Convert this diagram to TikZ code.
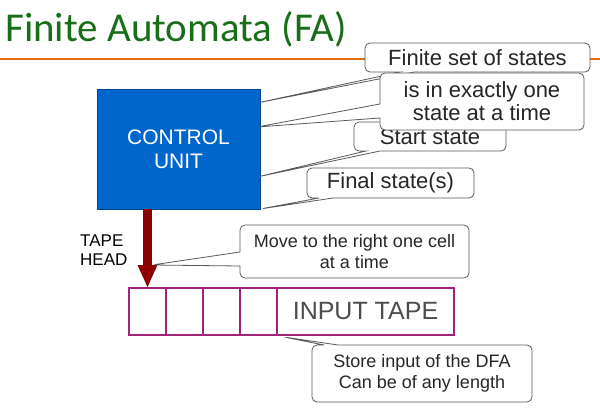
\documentclass[tikz,border=0pt]{standalone}
\usepackage{fontspec}
\setmainfont{Liberation Sans}
\newfontfamily\titlefont{Carlito}
\usetikzlibrary{positioning}
\usetikzlibrary{arrows.meta}
\usetikzlibrary{calc, shapes.callouts}
\definecolor{titleGreen}{RGB}{25,110,25}
\definecolor{ruleOrange}{RGB}{228,108,10}
\definecolor{unitBlue}{RGB}{0,102,204}
\definecolor{tapePurple}{RGB}{160,35,120}
\definecolor{headRed}{RGB}{140,0,0}
\tikzset{%
	% Specifications for style of nodes:
	base/.style = {rectangle, draw=black, inner sep=2pt, outer sep=0pt,
		align=center},
	note/.style = {base, rectangle callout, rounded corners=5pt, draw=black!65,
		line width=0.8pt, fill=white, text=black!85, callout pointer width=14pt,
		font=\fontsize{22}{23}\selectfont},
	smallNote/.style = {note, font=\fontsize{18}{21}\selectfont},
	unit/.style = {base, draw=unitBlue!70!black, fill=unitBlue, text=white,
		font=\fontsize{21}{24}\selectfont},
	cell/.style = {base, draw=tapePurple, line width=1.5pt, minimum width=37pt,
		minimum height=47pt}
}
\begin{document}
\begin{tikzpicture}[x=1pt, y=-1pt]
		\useasboundingbox (0,0) rectangle (600,420);
		%% Title
		\node [anchor=base west, inner sep=0pt, text=titleGreen, font=\titlefont\fontsize{41}{41}\selectfont] (title) at (5,42) {Finite Automata (FA)};
		\coordinate (ruleL) at (0,59);
		\coordinate (ruleR) at (600,59);
		\draw [ruleOrange, line width=2pt] (ruleL) -- (ruleR);
		%% Control unit
		\node [unit, minimum width=163pt, minimum height=120pt] (cu) at (178.5,149) {CONTROL\\UNIT};
		%% Tape
		\node [cell] (cell1) at (147.5,311.5) {};
		\node [cell, right=0pt of cell1] (cell2) {};
		\node [cell, right=0pt of cell2] (cell3) {};
		\node [cell, right=0pt of cell3] (cell4) {};
		\node [cell, right=0pt of cell4, minimum width=177pt, text=black!70, font=\fontsize{25}{25}\selectfont] (tapeText) {INPUT TAPE};
		%% Tape head
		\draw [headRed, line width=9pt, -{Triangle[width=18pt, length=23pt]}] (cu.south -| cell1) -- (cell1.north);
		\node [anchor=north west, align=left, inner sep=0pt, font=\fontsize{17}{19}\selectfont] (headLabel) at (80,235) {TAPE\\HEAD};
		%% Callouts
		\coordinate [xshift=-3pt, yshift=-14pt] (tipSet) at (cu.north east);
		\coordinate [xshift=-3pt, yshift=-38pt] (tipExact) at (cu.north east);
		\coordinate [xshift=-3pt, yshift=-88pt] (tipStart) at (cu.north east);
		\coordinate (tipFinal) at (cu.south east);
		\coordinate (tipMove) at ($(cell1.north)+(4.5,-23)$);
		\coordinate (tipStore) at ($(cell4.south east)+(7,2)$);
		\node [note, minimum width=225pt, minimum height=29pt, callout absolute pointer={(tipSet)}] (setNote) at (477.5,57.5) {Finite set of states};
		\node [note, minimum width=152pt, minimum height=29pt, callout absolute pointer={(tipStart)}] (startNote) at (430,136.5) {Start state};
		\node [note, minimum width=204pt, minimum height=57pt, callout absolute pointer={(tipExact)}] (exactNote) at (482,101.5) {is in exactly one\\state at a time};
		\node [note, minimum width=167pt, minimum height=30pt, callout absolute pointer={(tipFinal)}] (finalNote) at (390.5,183) {Final state(s)};
		\node [smallNote, minimum width=229pt, minimum height=53pt, callout absolute pointer={(tipMove)}] (moveNote) at (354.5,251.5) {Move to the right one cell\\at a time};
		\node [smallNote, minimum width=220pt, minimum height=57pt, callout absolute pointer={(tipStore)}] (storeNote) at (422,373.5) {Store input of the DFA\\Can be of any length};
	\end{tikzpicture}
\end{document}
